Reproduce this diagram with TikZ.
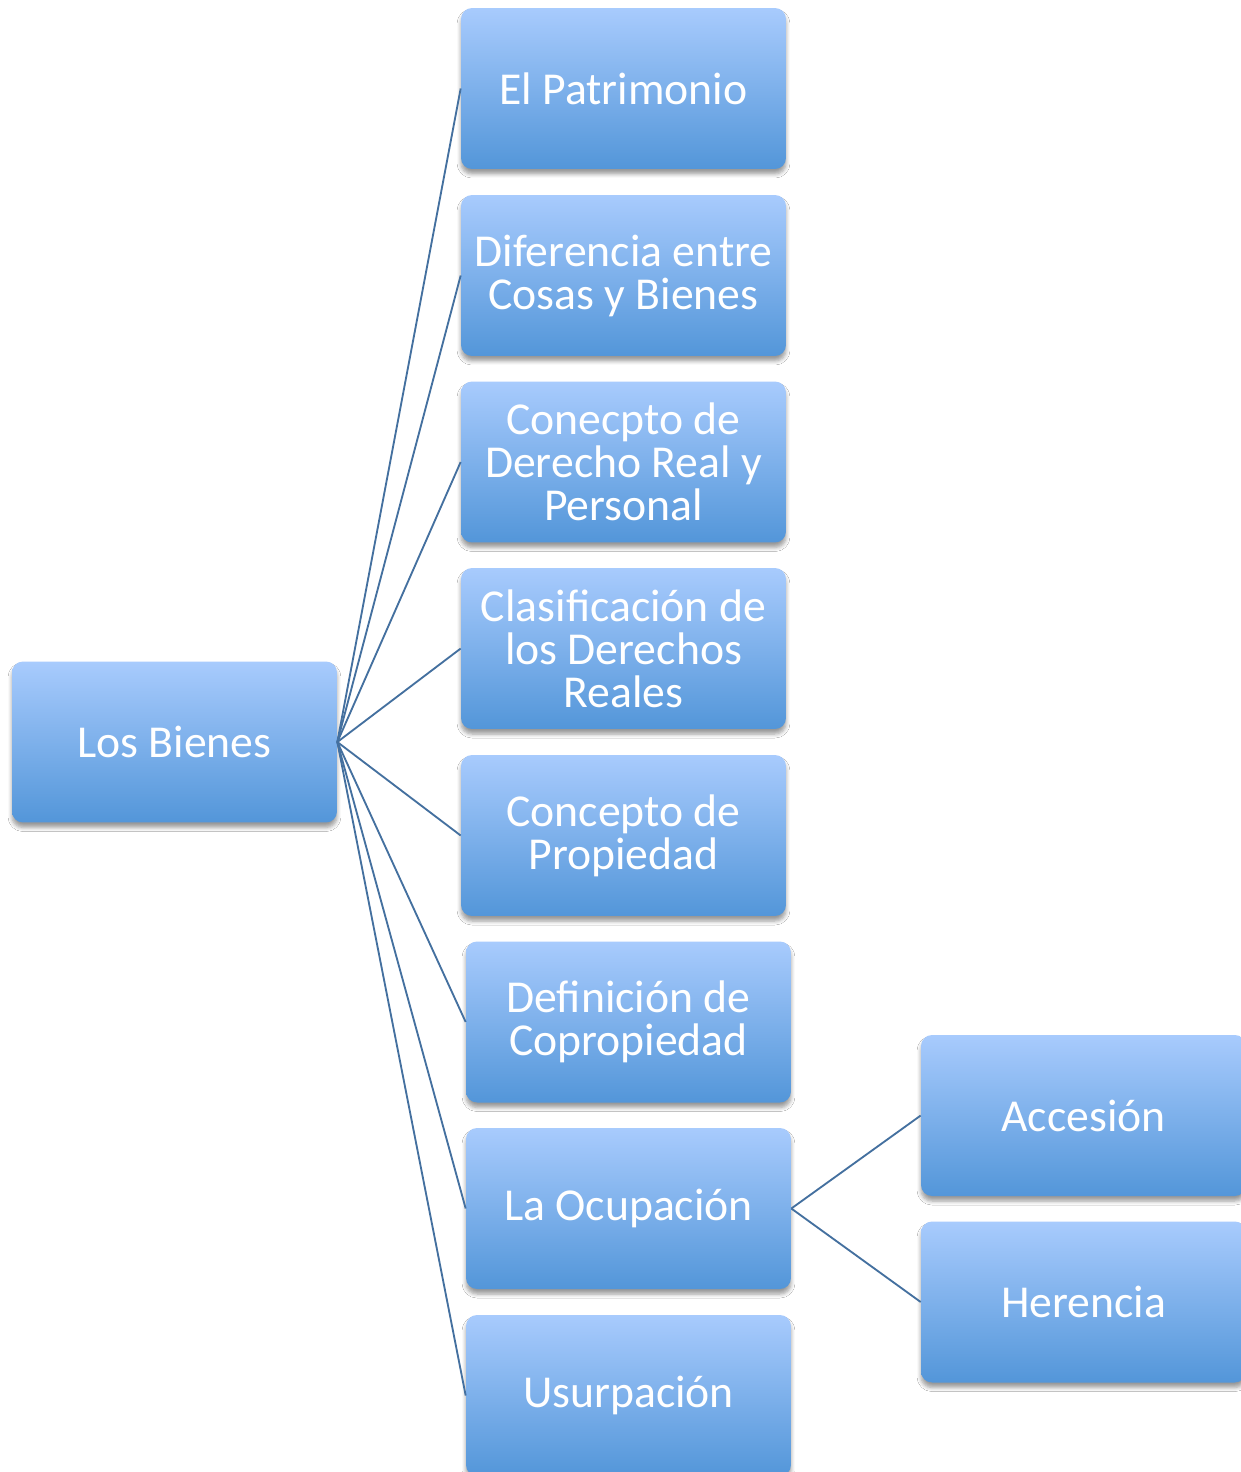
\documentclass[tikz,border=0pt]{standalone}
\usepackage{fontspec}
\setmainfont{Carlito}
\usetikzlibrary{shadows.blur}
\definecolor{boxtop}{HTML}{A8CBFD}
\definecolor{boxbot}{HTML}{5396D9}
\definecolor{linkblue}{HTML}{44709F}

\tikzset{
  topic/.style={rounded corners=0.22cm, top color=boxtop, bottom color=boxbot,
    minimum width=6.5cm, minimum height=3.22cm, align=center, text=white,
    inner sep=2pt, font=\fontsize{26pt}{24.5pt}\selectfont,
    blur shadow={shadow xshift=0cm, shadow yshift=-0.1cm, shadow blur radius=0.08cm, shadow blur steps=5, shadow opacity=40}},
  link/.style={linkblue, line width=1.05pt}
}

\begin{document}
\begin{tikzpicture}[x=0.02cm, y=-0.02cm]
		\clip (0,0) rectangle (1241,1472);% Keeps the page size of the reference
		\fill[white] (0,0) rectangle (1241,1472);

		\node[topic] (Bienes) at (174.5,742) {Los Bienes};

		\node[topic] (Patrimonio)    at (623.5,88.5)   {El Patrimonio};
		\node[topic] (Diferencia)    at (623.5,275.5)  {Diferencia entre\\Cosas y Bienes};
		\node[topic] (Derecho)       at (623.5,462)    {Conecpto de\\Derecho Real y\\Personal};
		\node[topic] (Clasificacion) at (623.5,648.5)  {Clasificación de\\los Derechos\\Reales};
		\node[topic] (Propiedad)     at (623.5,835.5)  {Concepto de\\Propiedad};
		\node[topic] (Copropiedad)   at (628.5,1022)   {Definición de\\Copropiedad};
		\node[topic] (Ocupacion)     at (628.5,1208.5) {La Ocupación};
		\node[topic] (Usurpacion)    at (628.5,1395.5) {Usurpación};

		\node[topic] (Accesion) at (1083.5,1115.5) {Accesión};
		\node[topic] (Herencia) at (1083.5,1302)   {Herencia};

		\foreach \child in {Patrimonio,Diferencia,Derecho,Clasificacion,Propiedad,Copropiedad,Ocupacion,Usurpacion}{% One link for each topic
			\draw[link] (Bienes.east) -- (\child.west);
		}
		\foreach \child in {Accesion,Herencia}{
			\draw[link] (Ocupacion.east) -- (\child.west);
		}
	  \end{tikzpicture}
\end{document}
